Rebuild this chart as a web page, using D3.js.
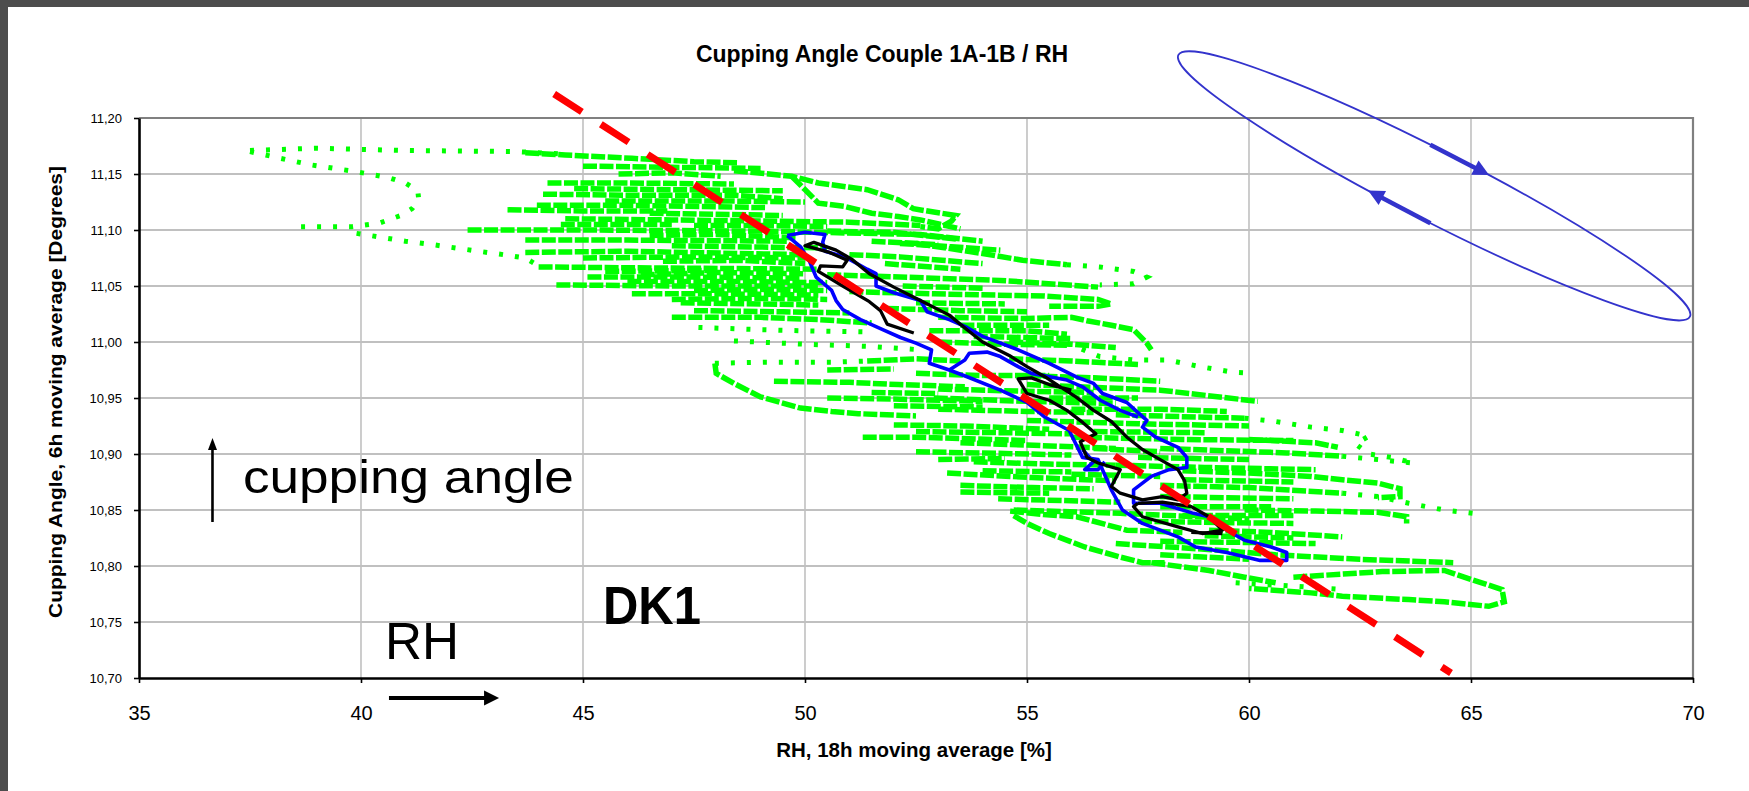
<!DOCTYPE html>
<html lang="en">
<head>
<meta charset="UTF-8">
<title>Cupping Angle Couple 1A-1B / RH</title>
<script src="https://d3js.org/d3.v7.min.js"></script>
<style>
  body { margin: 0; background: #fff; }
  svg { display: block; }
  text { font-family: "Liberation Sans", Arial, sans-serif; }
</style>
</head>
<body>
<script>
// axis ticks
const xTickValues = [35, 40, 45, 50, 55, 60, 65, 70];
const yTickValues = [10.70, 10.75, 10.80, 10.85, 10.90, 10.95, 11.00, 11.05, 11.10, 11.15, 11.20];

// green series, traces as [RH %, cupping angle]
// closely packed markers
const greenDense = [
  [[43.7,11.169],[44.6,11.167],[46.1,11.164],[47.5,11.161],[48.5,11.160]],
  [[45.0,11.157],[47.0,11.156],[49.0,11.155]],
  [[45.8,11.150],[47.0,11.151],[48.1,11.148]],
  [[44.2,11.142],[46.0,11.142],[48.4,11.141]],
  [[44.8,11.137],[47.0,11.136],[49.5,11.135]],
  [[48.4,11.153],[49.7,11.148],[50.3,11.142],[51.4,11.136],[52.1,11.127],[52.44,11.119],[52.9,11.116],[53.4,11.113],[53.3,11.108],[53.0,11.101],[52.6,11.103]],
  [[49.7,11.148],[50.0,11.136],[50.3,11.124],[50.9,11.121],[51.5,11.115],[52.1,11.112],[52.6,11.109],[53.5,11.101]],
  [[44.1,11.132],[46.0,11.131],[48.4,11.131],[49.5,11.128]],
  [[45.5,11.126],[48.0,11.126],[50.0,11.125]],
  [[43.96,11.122],[46.0,11.122],[49.1,11.120]],
  [[43.3,11.118],[45.0,11.117],[46.9,11.117]],
  [[44.6,11.110],[47.0,11.109],[49.1,11.108],[51.0,11.107],[52.6,11.104]],
  [[44.5,11.105],[47.0,11.105]],
  [[42.4,11.100],[45.0,11.100],[49.0,11.099],[52.6,11.096],[54.0,11.090]],
  [[43.7,11.091],[46.0,11.091],[49.6,11.090]],
  [[43.7,11.080],[46.0,11.081],[49.9,11.078]],
  [[45.0,11.075],[47.5,11.076],[50.0,11.075]],
  [[44.0,11.067],[47.0,11.066],[50.3,11.065]],
  [[45.5,11.063],[48.0,11.064]],
  [[45.1,11.058],[47.5,11.058],[49.9,11.057]],
  [[46.0,11.054],[48.5,11.054],[50.5,11.053]],
  [[44.4,11.051],[47.0,11.050],[50.3,11.050]],
  [[46.1,11.043],[48.0,11.043],[50.3,11.042]],
  [[47.0,11.038],[49.0,11.039],[50.5,11.038]],
  [[47.2,11.035],[49.0,11.034],[50.3,11.033]],
  [[47.5,11.028],[49.5,11.027],[51.0,11.026]],
  [[47.0,11.022],[49.0,11.022],[50.3,11.020],[51.5,11.017]],
  [[46.5,11.095],[48.0,11.096],[49.8,11.093]],
  [[46.8,11.072],[48.5,11.073],[50.0,11.070]],
  [[47.0,11.086],[48.5,11.085],[50.5,11.084]],
  [[47.5,11.104],[49.0,11.104],[50.5,11.103]],
  [[46.3,11.060],[48.0,11.062],[50.0,11.061]],
  [[47.5,11.046],[49.0,11.047],[50.5,11.046]],
  [[46.5,11.115],[48.0,11.114],[49.5,11.113]],
  [[50.5,11.099],[52.0,11.098],[53.4,11.092]],
  [[51.5,11.090],[53.0,11.087]],
  [[52.14,11.088],[53.3,11.085],[54.4,11.082]],
  [[51.0,11.078],[52.14,11.076],[54.0,11.070]],
  [[51.8,11.070],[53.5,11.065]],
  [[52.5,11.088],[54.0,11.079],[54.9,11.073],[55.9,11.069]],
  [[50.5,11.060],[52.14,11.058],[54.4,11.055],[56.6,11.049]],
  [[52.2,11.050],[54.0,11.048]],
  [[51.0,11.045],[52.9,11.043],[55.4,11.041],[56.6,11.038],[56.9,11.034],[56.6,11.032],[55.5,11.032]],
  [[52.5,11.035],[54.5,11.034]],
  [[51.8,11.030],[53.5,11.028],[55.0,11.027]],
  [[53.0,11.022],[55.0,11.021],[56.0,11.022],[56.35,11.019],[56.9,11.015],[57.4,11.011],[57.7,10.999],[57.8,10.993]],
  [[53.5,11.015],[55.5,11.015]],
  [[52.8,11.010],[55.0,11.010],[55.9,11.007]],
  [[53.8,11.005],[56.0,11.003]],
  [[53.0,11.000],[54.5,10.998],[55.9,10.997]],
  [[51.4,10.983],[52.5,10.985],[53.5,10.983]],
  [[50.5,10.975],[52.0,10.976]],
  [[47.97,10.981],[48.0,10.972],[48.4,10.963],[49.0,10.951],[49.9,10.941],[50.6,10.938],[51.2,10.936],[52.5,10.934]],
  [[49.3,10.965],[51.0,10.964],[52.1,10.962],[53.6,10.960]],
  [[51.5,10.955],[53.0,10.954]],
  [[50.5,10.950],[52.0,10.949],[54.0,10.947]],
  [[52.0,10.943],[54.0,10.942]],
  [[52.5,10.920],[54.5,10.919],[56.0,10.918]],
  [[51.3,10.915],[52.5,10.915],[55.0,10.912]],
  [[52.0,10.926],[53.6,10.925],[55.5,10.922]],
  [[52.5,10.902],[55.1,10.900],[56.0,10.899]],
  [[53.0,10.895],[54.5,10.896]],
  [[54.0,10.885],[56.0,10.884]],
  [[53.2,10.883],[55.1,10.879],[57.0,10.876]],
  [[53.5,10.872],[55.1,10.870],[56.5,10.869]],
  [[53.5,10.866],[55.5,10.865]],
  [[54.35,10.860],[57.1,10.857]],
  [[54.7,10.850],[57.1,10.847],[60.0,10.842]],
  [[54.7,10.845],[55.0,10.838],[55.5,10.829],[56.3,10.817],[57.1,10.808],[57.6,10.803],[58.1,10.803]],
  [[54.62,10.849],[55.37,10.846],[56.12,10.844],[57.25,10.832],[58.5,10.830]],
  [[52.9,10.950],[55.0,10.947],[57.0,10.945]],
  [[53.0,10.940],[55.0,10.938],[56.5,10.937]],
  [[53.5,10.910],[55.0,10.908],[57.0,10.905]],
  [[53.8,10.893],[55.5,10.891],[57.0,10.890]],
  [[52.5,10.972],[54.0,10.970],[55.5,10.970]],
  [[53.0,10.958],[55.0,10.956],[56.5,10.955]],
  [[54.6,11.000],[56.0,10.998],[57.0,10.995]],
  [[54.6,10.985],[56.0,10.983],[57.5,10.980]],
  [[55.0,10.970],[56.5,10.968],[58.0,10.965]],
  [[55.0,10.962],[58.0,10.957],[60.2,10.947]],
  [[55.5,10.950],[57.5,10.950]],
  [[56.0,10.940],[58.0,10.940],[59.5,10.938]],
  [[57.0,10.935],[58.8,10.933],[59.9,10.932]],
  [[56.5,10.920],[59.0,10.919]],
  [[56.5,10.905],[58.0,10.902]],
  [[58.0,10.905],[60.85,10.901],[62.1,10.898]],
  [[57.5,10.897],[60.0,10.895]],
  [[56.0,10.882],[58.0,10.880]],
  [[58.5,10.885],[60.0,10.883],[61.4,10.880],[62.1,10.877],[62.9,10.874],[63.4,10.869],[63.4,10.862],[62.9,10.861]],
  [[58.5,10.877],[61.0,10.875]],
  [[58.0,10.872],[60.0,10.870],[62.1,10.865]],
  [[58.0,10.853],[60.5,10.853]],
  [[58.5,10.845],[61.0,10.845]],
  [[59.9,10.850],[61.5,10.849],[62.9,10.848],[63.55,10.844],[63.55,10.838]],
  [[59.1,10.832],[60.5,10.830],[62.1,10.826]],
  [[59.0,10.827],[61.0,10.825]],
  [[57.0,10.820],[59.0,10.815],[60.6,10.810],[62.5,10.806],[64.6,10.803]],
  [[58.0,10.810],[60.0,10.806]],
  [[61.0,10.790],[63.0,10.795],[64.4,10.796],[65.0,10.788],[65.7,10.779],[65.75,10.768],[65.4,10.764],[64.4,10.768],[63.6,10.770],[62.1,10.773],[61.4,10.776],[60.0,10.780]],
  [[57.8,10.803],[59.1,10.796],[59.9,10.790],[60.6,10.785]],
  [[55.0,10.930],[57.5,10.927],[60.0,10.925]],
  [[56.0,10.915],[58.5,10.913],[61.0,10.912]],
  [[57.0,10.890],[59.0,10.888],[61.5,10.886]],
  [[58.0,10.862],[59.5,10.861],[61.0,10.860]],
  [[57.5,10.840],[59.0,10.839],[61.0,10.838]],
  [[58.0,10.822],[60.0,10.821],[61.5,10.820]],
  [[60.0,10.913],[61.5,10.910],[62.0,10.906]]
];

// widely spaced markers
const greenSparse = [
  [[37.5,11.171],[39.0,11.173],[41.0,11.171],[43.5,11.170],[44.5,11.168]],
  [[37.5,11.170],[38.3,11.163],[38.9,11.158],[39.9,11.152],[40.6,11.147],[41.0,11.142],[41.28,11.135],[41.3,11.127],[41.15,11.119],[40.9,11.113],[40.4,11.106],[39.8,11.103],[38.4,11.103]],
  [[39.9,11.097],[41.0,11.090],[41.6,11.087],[42.3,11.083],[43.2,11.078],[43.7,11.075],[44.0,11.068]],
  [[47.6,11.013],[49.0,11.011],[50.0,11.010],[51.4,11.009]],
  [[48.4,11.001],[50.0,10.998],[51.5,10.996],[52.6,10.993]],
  [[55.9,11.069],[56.64,11.067],[57.4,11.063],[57.7,11.058],[57.4,11.052],[56.64,11.051]],
  [[55.9,10.999],[56.64,10.987],[57.4,10.984],[58.15,10.984],[58.9,10.978],[59.65,10.973],[60.1,10.972]],
  [[47.97,10.981],[49.14,10.982],[50.6,10.982],[51.4,10.983]],
  [[59.9,10.932],[60.6,10.929],[61.4,10.924],[62.1,10.921],[62.7,10.916],[62.4,10.909],[62.7,10.900],[63.2,10.897],[63.7,10.892]],
  [[62.1,10.898],[62.9,10.895],[63.7,10.892]],
  [[62.1,10.865],[62.9,10.862],[63.6,10.856],[64.4,10.850],[65.05,10.847]],
  [[59.7,10.785],[61.0,10.782],[62.1,10.779]]
];

// blue series
const blueLoops = [
  [[49.6,11.095],[50.0,11.098],[50.45,11.096],[50.4,11.089],[50.45,11.081],[50.9,11.076],[51.4,11.065],[51.6,11.061],[51.6,11.050],[52.0,11.044],[52.6,11.037],[52.75,11.027],[53.25,11.020],[53.65,11.013],[54.0,11.005],[54.8,10.993],[55.5,10.981],[56.1,10.969],[56.5,10.963],[56.7,10.954],[57.25,10.946],[57.5,10.937],[57.7,10.930],[57.6,10.924],[57.9,10.915],[58.4,10.906],[58.6,10.897],[58.6,10.888],[58.2,10.886],[57.8,10.880],[57.4,10.868],[57.4,10.856],[58.0,10.856],[58.75,10.847],[59.1,10.844],[59.5,10.832],[59.9,10.823],[60.5,10.817],[60.85,10.812],[60.85,10.805],[60.25,10.805],[59.5,10.812],[58.8,10.817],[58.4,10.826],[57.6,10.838],[57.15,10.850],[56.9,10.868],[56.7,10.886],[56.6,10.895],[56.25,10.897],[55.95,10.921],[55.4,10.933],[55.0,10.946],[54.4,10.957],[53.65,10.969],[53.25,10.975],[52.8,10.981],[52.85,10.993],[52.5,10.999],[52.15,11.004],[51.75,11.011],[51.25,11.020],[50.85,11.029],[50.7,11.037],[50.6,11.046],[50.25,11.058],[50.1,11.072],[49.9,11.085],[49.6,11.095]],
  [[53.25,10.975],[53.6,10.984],[53.7,10.990],[54.1,10.991],[54.4,10.987],[54.8,10.978],[55.1,10.972],[55.9,10.966],[56.25,10.960],[56.65,10.948],[57.1,10.939],[57.5,10.933]],
  [[56.25,10.904],[56.5,10.893],[56.3,10.886],[56.6,10.886],[56.75,10.893]]
];

// black series
const blackLoops = [
  [[52.45,11.008],[51.85,11.016],[51.7,11.028],[51.45,11.036],[50.85,11.050],[50.3,11.063],[50.35,11.068],[50.85,11.067],[50.95,11.073],[50.55,11.080],[50.0,11.086],[50.2,11.089],[50.7,11.082],[51.05,11.074],[51.45,11.061],[52.0,11.049],[52.6,11.037],[53.25,11.024],[53.65,11.011],[54.0,11.000],[54.6,10.988],[55.0,10.978],[55.4,10.969],[55.75,10.960],[56.1,10.951],[56.5,10.939],[56.9,10.929],[57.25,10.915],[57.6,10.904],[58.0,10.895],[58.4,10.886],[58.55,10.876],[58.6,10.865],[58.4,10.859],[58.05,10.862],[57.6,10.859],[57.1,10.865],[56.9,10.871],[57.1,10.886],[56.6,10.892],[56.35,10.897],[56.2,10.911],[56.55,10.918],[56.26,10.928],[55.9,10.939],[55.5,10.948],[55.0,10.954],[54.8,10.967],[55.1,10.968],[55.5,10.962],[56.0,10.957]],
  [[57.5,10.856],[58.05,10.857],[58.7,10.853],[59.1,10.844],[59.4,10.832],[58.95,10.829],[58.4,10.835],[57.6,10.844],[57.4,10.853],[57.5,10.856]],
  [[58.7,10.830],[59.4,10.829]]
];

// red trend line end points
const trendLine = [[44.35, 11.2214], [64.55, 10.7045]];

// hysteresis sketch (ellipse tips) and direction markers
const cycleTips = [[58.41, 11.2563], [69.93, 11.0226]];
const cycleArrowParams = [[-1.648, -1.417], [1.523, 1.769]];

// annotation arrows and labels
const angleArrow = [[36.655, 10.8393], [36.655, 10.9143]];
const rhArrow = [[40.63, 10.6821], [43.11, 10.6821]];
const noteCupping = { text: "cupping angle", at: [37.34, 10.8652] };
const noteRH = { text: "RH", at: [40.54, 10.717] };
const noteDK = { text: "DK1", at: [45.45, 10.748] };

// ---- layout ----
const W = 1749, H = 791;
const plotL = 139, plotT = 118, plotR = 1693, plotB = 678;

const svg = d3.select("body").append("svg")
  .attr("width", W).attr("height", H);

svg.append("rect").attr("width", W).attr("height", H).attr("fill", "#fff");
svg.append("rect").attr("width", W).attr("height", 7).attr("fill", "#4d4d4d");
svg.append("rect").attr("width", 8).attr("height", H).attr("fill", "#4d4d4d");

const x = d3.scaleLinear().domain([35, 70]).range([plotL, plotR]);
const y = d3.scaleLinear().domain([10.70, 11.20]).range([plotB, plotT]);

// grid
svg.append("g").selectAll("line")
  .data(yTickValues.filter(v => v > 10.71 && v < 11.19))
  .join("line")
  .attr("x1", plotL).attr("x2", plotR)
  .attr("y1", d => y(d)).attr("y2", d => y(d))
  .attr("stroke", "#c0c0c0").attr("stroke-width", 2);

svg.append("g").selectAll("line")
  .data(xTickValues.filter(v => v > 35 && v < 70))
  .join("line")
  .attr("x1", d => x(d)).attr("x2", d => x(d))
  .attr("y1", plotT).attr("y2", plotB)
  .attr("stroke", "#c0c0c0").attr("stroke-width", 1.6);

// plot border top/right
svg.append("path")
  .attr("d", `M${plotL},${plotT}H${plotR}V${plotB}`)
  .attr("fill", "none").attr("stroke", "#808080").attr("stroke-width", 2.2);

// data
const line = d3.line().x(d => x(d[0])).y(d => y(d[1]));

svg.append("g").selectAll("path")
  .data(greenSparse)
  .join("path")
  .attr("d", line)
  .attr("fill", "none").attr("stroke", "#00ff00")
  .attr("stroke-width", 5).attr("stroke-dasharray", "4 12");

svg.append("g").selectAll("path")
  .data(greenDense)
  .join("path")
  .attr("d", line)
  .attr("fill", "none").attr("stroke", "#00ff00")
  .attr("stroke-width", 5.5).attr("stroke-dasharray", "14 2.5");

svg.append("g").selectAll("path")
  .data(blueLoops)
  .join("path")
  .attr("d", line)
  .attr("fill", "none").attr("stroke", "#0000ff")
  .attr("stroke-width", 3.6).attr("stroke-linejoin", "round");

svg.append("g").selectAll("path")
  .data(blackLoops)
  .join("path")
  .attr("d", line)
  .attr("fill", "none").attr("stroke", "#000")
  .attr("stroke-width", 3.3).attr("stroke-linejoin", "round");

svg.append("path")
  .attr("d", line(trendLine))
  .attr("fill", "none").attr("stroke", "#ff0000")
  .attr("stroke-width", 7).attr("stroke-dasharray", "33 22.6");

// axes
const fmt = d3.format(".2f");
const yAxis = d3.axisLeft(y).tickValues(yTickValues)
  .tickSize(5).tickSizeOuter(0).tickPadding(12)
  .tickFormat(d => fmt(d).replace(".", ","));
const gy = svg.append("g").attr("transform", `translate(${plotL},0)`).call(yAxis);
gy.select(".domain").attr("stroke", "#000").attr("stroke-width", 2.6);
gy.selectAll(".tick line").attr("stroke", "#000").attr("stroke-width", 1.6);
gy.selectAll(".tick text")
  .attr("font-family", "'DejaVu Sans', sans-serif")
  .attr("font-size", 13).attr("fill", "#000");

const xAxis = d3.axisBottom(x).tickValues(xTickValues)
  .tickSize(5).tickSizeOuter(0).tickFormat(d3.format("d"));
const gx = svg.append("g").attr("transform", `translate(0,${plotB})`).call(xAxis);
gx.select(".domain").attr("stroke", "#000").attr("stroke-width", 2.6);
gx.selectAll(".tick line").attr("stroke", "#000").attr("stroke-width", 1.6);
gx.selectAll(".tick text")
  .attr("y", 42).attr("dy", 0)
  .attr("font-family", "'Liberation Sans', Arial, sans-serif")
  .attr("font-size", 20).attr("fill", "#000");

// titles
svg.append("text")
  .attr("x", 882).attr("y", 62)
  .attr("text-anchor", "middle")
  .attr("font-size", 23).attr("font-weight", "bold")
  .text("Cupping Angle Couple 1A-1B / RH");

svg.append("text")
  .attr("x", 914).attr("y", 757)
  .attr("text-anchor", "middle")
  .attr("font-size", 20.5).attr("font-weight", "bold")
  .text("RH, 18h moving average [%]");

svg.append("text")
  .attr("transform", "rotate(-90)")
  .attr("x", -392).attr("y", 62)
  .attr("text-anchor", "middle")
  .attr("font-size", 18).attr("font-weight", "bold")
  .attr("textLength", 452).attr("lengthAdjust", "spacingAndGlyphs")
  .text("Cupping Angle, 6h moving average [Degrees]");

// annotations
function arrow(p0, p1, width, headLen, headHalf, color) {
  const dx = p1[0] - p0[0], dy = p1[1] - p0[1];
  const len = Math.hypot(dx, dy), ux = dx / len, uy = dy / len;
  const bx = p1[0] - ux * headLen, by = p1[1] - uy * headLen;
  svg.append("line")
    .attr("x1", p0[0]).attr("y1", p0[1]).attr("x2", bx + ux).attr("y2", by + uy)
    .attr("stroke", color).attr("stroke-width", width);
  svg.append("path")
    .attr("d", `M${p1[0]},${p1[1]}L${bx - uy * headHalf},${by + ux * headHalf}L${bx + uy * headHalf},${by - ux * headHalf}Z`)
    .attr("fill", color);
}

arrow([x(angleArrow[0][0]), y(angleArrow[0][1])], [x(angleArrow[1][0]), y(angleArrow[1][1])], 2.6, 12, 4.5, "#000");
arrow([x(rhArrow[0][0]), y(rhArrow[0][1])], [x(rhArrow[1][0]), y(rhArrow[1][1])], 4, 15, 7.5, "#000");

svg.append("text")
  .attr("x", x(noteCupping.at[0])).attr("y", y(noteCupping.at[1]))
  .attr("font-size", 47)
  .attr("textLength", 331).attr("lengthAdjust", "spacingAndGlyphs")
  .text(noteCupping.text);

svg.append("text")
  .attr("x", x(noteRH.at[0])).attr("y", y(noteRH.at[1]))
  .attr("font-size", 51)
  .attr("textLength", 74).attr("lengthAdjust", "spacingAndGlyphs")
  .text(noteRH.text);

svg.append("text")
  .attr("x", x(noteDK.at[0])).attr("y", y(noteDK.at[1]))
  .attr("font-size", 53).attr("font-weight", "bold")
  .attr("textLength", 98).attr("lengthAdjust", "spacingAndGlyphs")
  .text(noteDK.text);

// hysteresis ellipse
const t1 = [x(cycleTips[0][0]), y(cycleTips[0][1])];
const t2 = [x(cycleTips[1][0]), y(cycleTips[1][1])];
const cx = (t1[0] + t2[0]) / 2, cy = (t1[1] + t2[1]) / 2;
const ang = Math.atan2(t2[1] - t1[1], t2[0] - t1[0]);
const rx = Math.hypot(t2[0] - t1[0], t2[1] - t1[1]) / 2, ry = 35;
const cycleColor = "#3333cc";

svg.append("ellipse")
  .attr("transform", `translate(${cx},${cy}) rotate(${ang * 180 / Math.PI})`)
  .attr("rx", rx).attr("ry", ry)
  .attr("fill", "none").attr("stroke", cycleColor).attr("stroke-width", 1.8);

const onCycle = t => [
  cx + rx * Math.cos(t) * Math.cos(ang) - ry * Math.sin(t) * Math.sin(ang),
  cy + rx * Math.cos(t) * Math.sin(ang) + ry * Math.sin(t) * Math.cos(ang)
];
cycleArrowParams.forEach(([a, b]) => arrow(onCycle(a), onCycle(b), 4.5, 16, 8, cycleColor));
</script>
</body>
</html>
